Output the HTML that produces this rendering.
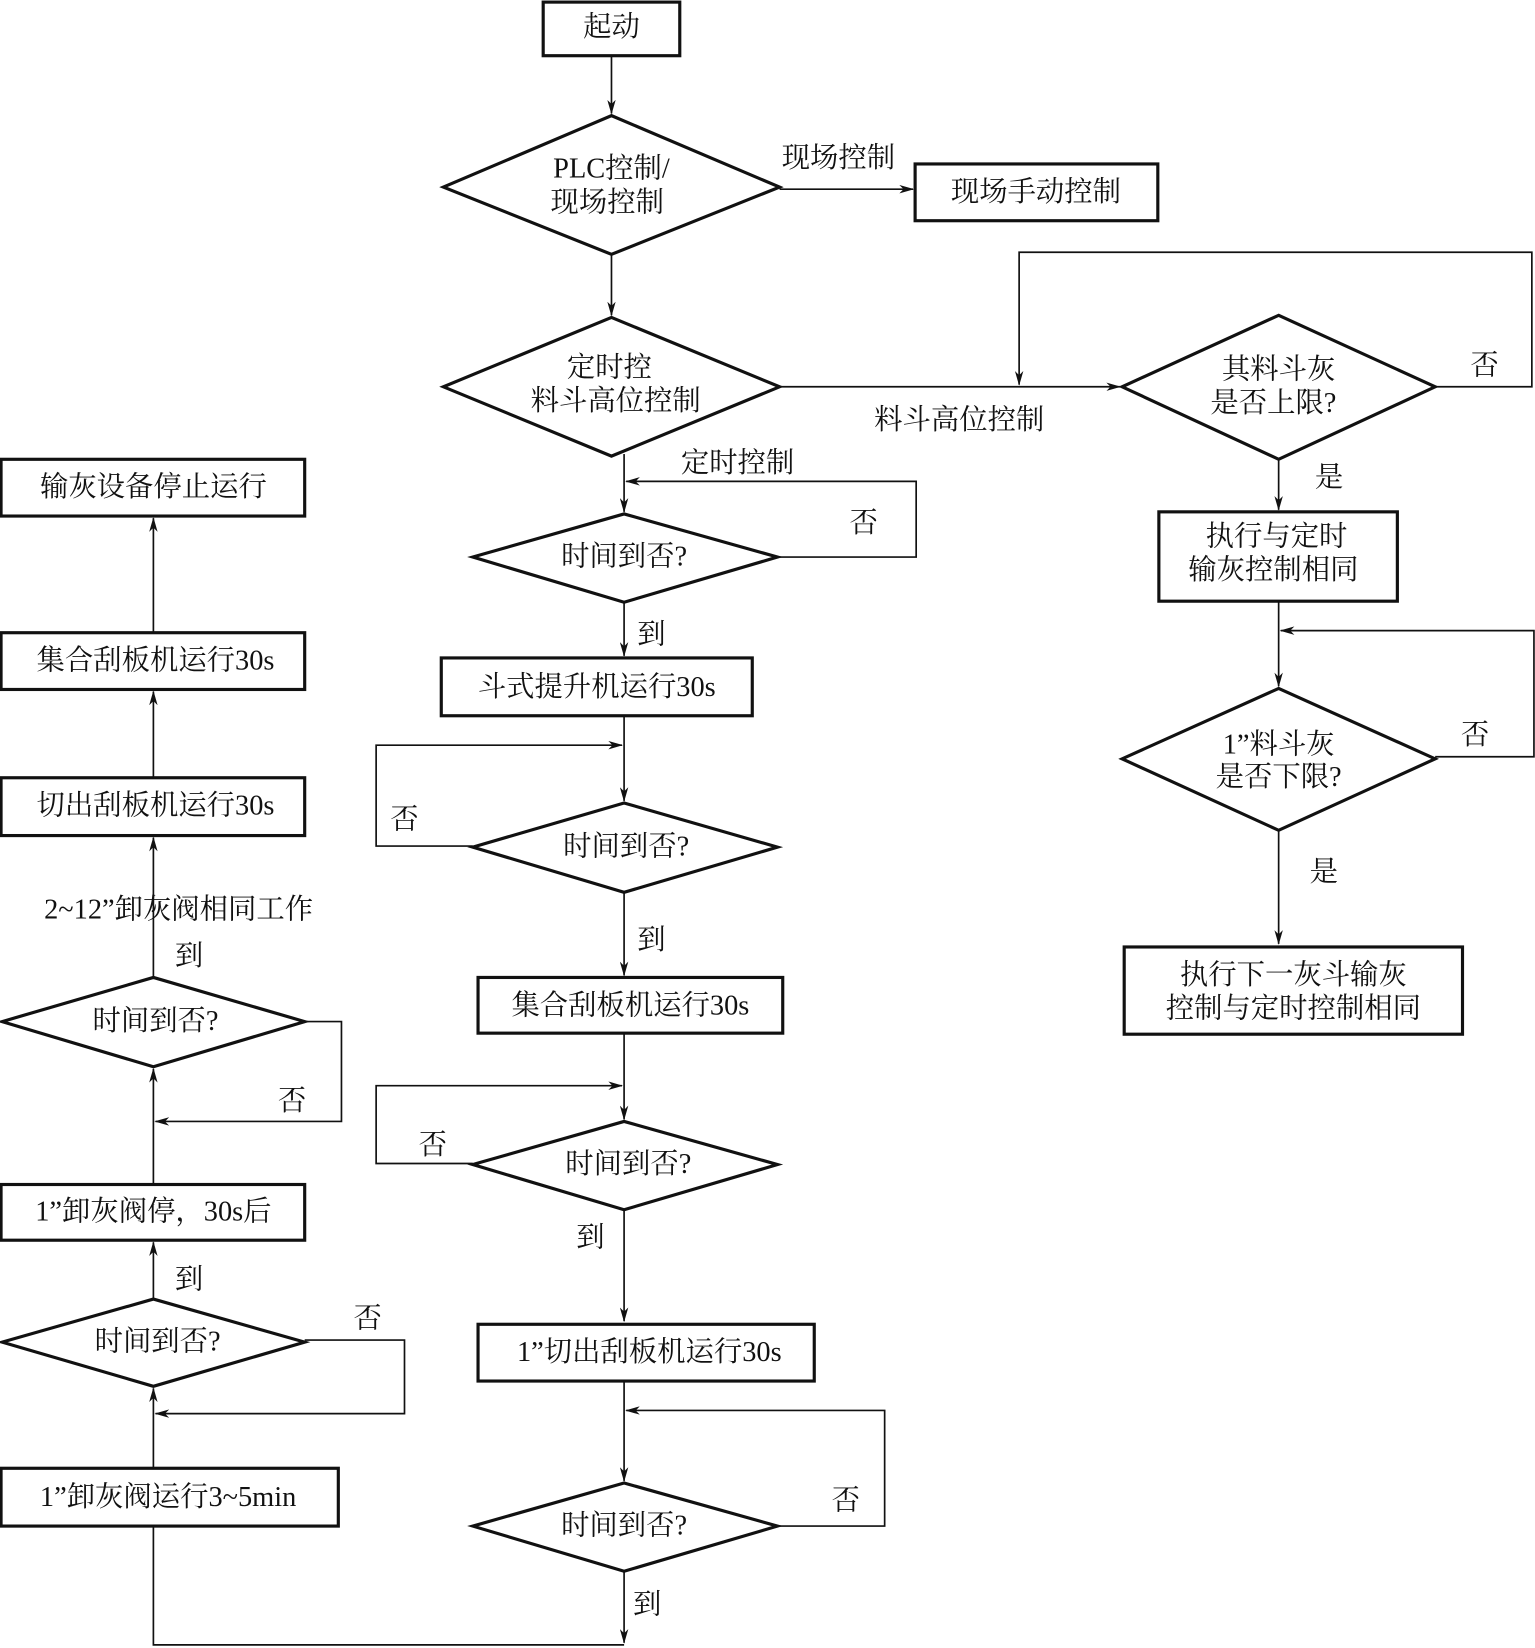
<!DOCTYPE html>
<html><head><meta charset="utf-8"><style>
html,body{margin:0;padding:0;background:#fff}
svg{display:block}
text{font-family:"Liberation Serif","Noto Serif CJK SC",serif;font-size:27px;fill:#111;text-anchor:middle;dominant-baseline:central}
.b{fill:none;stroke:#111;stroke-width:3}
.l{fill:none;stroke:#111;stroke-width:1.6}
</style></head><body>
<svg width="1535" height="1648" viewBox="0 0 1461 1568" preserveAspectRatio="none" xmlns="http://www.w3.org/2000/svg">
<defs><marker id="a" markerWidth="14" markerHeight="8" refX="13" refY="4" orient="auto" markerUnits="userSpaceOnUse"><path d="M0,0 L14,4 L0,8 L4,4 Z" fill="#111"/></marker></defs>

<!-- center top -->
<rect class="b" x="517" y="2" width="130" height="51"/><text x="582" y="26">起动</text>
<line class="l" x1="582" y1="53" x2="582" y2="108" marker-end="url(#a)"/>
<polygon class="b" points="582,110 742,178 582,242 422,178"/>
<text x="582" y="161">PLC控制/</text><text x="578" y="193">现场控制</text>
<line class="l" x1="742" y1="180" x2="869" y2="180" marker-end="url(#a)"/>
<text x="798" y="151">现场控制</text>
<rect class="b" x="871" y="156" width="231" height="54"/><text x="986" y="183">现场手动控制</text>
<line class="l" x1="582" y1="242" x2="582" y2="300" marker-end="url(#a)"/>
<polygon class="b" points="582,302 742,368 582,434 422,368"/>
<text x="580" y="350">定时控</text><text x="586" y="382">料斗高位控制</text>
<line class="l" x1="742" y1="368" x2="1066" y2="368" marker-end="url(#a)"/>
<text x="913" y="400">料斗高位控制</text>
<polyline class="l" points="1366,368 1458,368 1458,240 970,240 970,366" marker-end="url(#a)"/>
<text x="1413" y="348">否</text>

<!-- right column -->
<polygon class="b" points="1217,300 1366,368 1217,437 1068,368"/>
<text x="1217" y="352">其料斗灰</text><text x="1212" y="384">是否上限?</text>
<line class="l" x1="1217" y1="437" x2="1217" y2="485" marker-end="url(#a)"/>
<text x="1265" y="455">是</text>
<rect class="b" x="1103" y="487" width="227" height="85"/>
<text x="1215" y="511">执行与定时</text><text x="1212" y="543">输灰控制相同</text>
<line class="l" x1="1217" y1="572" x2="1217" y2="653" marker-end="url(#a)"/>
<polyline class="l" points="1366,720 1460,720 1460,600 1219,600" marker-end="url(#a)"/>
<polygon class="b" points="1217,655 1366,722 1217,790 1068,722"/>
<text x="1217" y="709">1”料斗灰</text><text x="1217" y="740">是否下限?</text>
<text x="1404" y="700">否</text>
<line class="l" x1="1217" y1="790" x2="1217" y2="898" marker-end="url(#a)"/>
<text x="1260" y="830">是</text>
<rect class="b" x="1070" y="901" width="322" height="83"/>
<text x="1231" y="928">执行下一灰斗输灰</text><text x="1231" y="960">控制与定时控制相同</text>

<!-- center column -->
<line class="l" x1="594" y1="432" x2="594" y2="487" marker-end="url(#a)"/>
<text x="702" y="441">定时控制</text>
<polyline class="l" points="740,530 872,530 872,458 596,458" marker-end="url(#a)"/>
<text x="822" y="498">否</text>
<polygon class="b" points="594,489 740,530 594,573 450,530"/><text x="594" y="530">时间到否?</text>
<line class="l" x1="594" y1="573" x2="594" y2="624" marker-end="url(#a)"/>
<text x="620" y="604">到</text>
<rect class="b" x="420" y="626" width="296" height="55"/><text x="568" y="654">斗式提升机运行30s</text>
<line class="l" x1="594" y1="681" x2="594" y2="762" marker-end="url(#a)"/>
<polyline class="l" points="450,805 358,805 358,709 592,709" marker-end="url(#a)"/>
<text x="385" y="780">否</text>
<polygon class="b" points="594,764 740,806 594,849 450,806"/><text x="596" y="806">时间到否?</text>
<line class="l" x1="594" y1="849" x2="594" y2="928" marker-end="url(#a)"/>
<text x="620" y="895">到</text>
<rect class="b" x="455" y="930" width="290" height="53"/><text x="600" y="957">集合刮板机运行30s</text>
<line class="l" x1="594" y1="983" x2="594" y2="1065" marker-end="url(#a)"/>
<polyline class="l" points="450,1107 358,1107 358,1033 592,1033" marker-end="url(#a)"/>
<text x="412" y="1090">否</text>
<polygon class="b" points="594,1067 740,1108 594,1151 450,1108"/><text x="598" y="1108">时间到否?</text>
<line class="l" x1="594" y1="1151" x2="594" y2="1257" marker-end="url(#a)"/>
<text x="562" y="1178">到</text>
<rect class="b" x="455" y="1260" width="320" height="54"/><text x="618" y="1287">1”切出刮板机运行30s</text>
<line class="l" x1="594" y1="1314" x2="594" y2="1409" marker-end="url(#a)"/>
<polyline class="l" points="740,1452 842,1452 842,1342 596,1342" marker-end="url(#a)"/>
<text x="805" y="1428">否</text>
<polygon class="b" points="594,1411 740,1452 594,1495 450,1452"/><text x="594" y="1452">时间到否?</text>
<line class="l" x1="594" y1="1495" x2="594" y2="1563" marker-end="url(#a)"/>
<text x="616" y="1527">到</text>
<polyline class="l" points="594,1565 146,1565 146,1452"/>

<!-- left column -->
<rect class="b" x="1" y="1397" width="321" height="55"/><text x="160" y="1425">1”卸灰阀运行3~5min</text>
<line class="l" x1="146" y1="1397" x2="146" y2="1321" marker-end="url(#a)"/>
<polygon class="b" points="146,1236 290,1277 146,1319 2,1277"/><text x="150" y="1277">时间到否?</text>
<polyline class="l" points="290,1275 385,1275 385,1345 148,1345" marker-end="url(#a)"/>
<text x="350" y="1255">否</text>
<line class="l" x1="146" y1="1236" x2="146" y2="1182" marker-end="url(#a)"/>
<text x="180" y="1218">到</text>
<rect class="b" x="1" y="1127" width="289" height="53"/><text x="146" y="1153">1”卸灰阀停，30s后</text>
<line class="l" x1="146" y1="1127" x2="146" y2="1017" marker-end="url(#a)"/>
<polyline class="l" points="290,972 325,972 325,1067 148,1067" marker-end="url(#a)"/>
<text x="278" y="1048">否</text>
<polygon class="b" points="146,930 290,972 146,1015 2,972"/><text x="148" y="972">时间到否?</text>
<line class="l" x1="146" y1="930" x2="146" y2="797" marker-end="url(#a)"/>
<text x="180" y="910">到</text>
<text x="170" y="866" style="fill:#111">2~12”卸灰阀相同工作</text>
<rect class="b" x="1" y="740" width="289" height="55"/><text x="148" y="767">切出刮板机运行30s</text>
<line class="l" x1="146" y1="740" x2="146" y2="658" marker-end="url(#a)"/>
<rect class="b" x="1" y="602" width="289" height="54"/><text x="148" y="629">集合刮板机运行30s</text>
<line class="l" x1="146" y1="602" x2="146" y2="493" marker-end="url(#a)"/>
<rect class="b" x="1" y="437" width="289" height="54"/><text x="146" y="464">输灰设备停止运行</text>
</svg>
</body></html>
